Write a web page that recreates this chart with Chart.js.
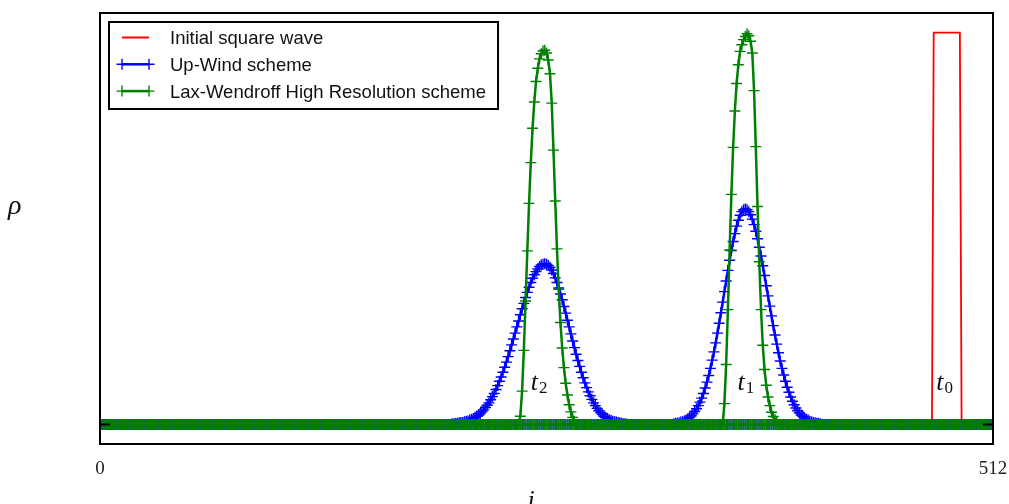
<!DOCTYPE html>
<html>
<head>
<meta charset="utf-8">
<script src="https://cdn.jsdelivr.net/npm/chart.js@4.4.1/dist/chart.umd.min.js"></script>
<style>
  html, body { margin: 0; padding: 0; background: #fff; }
  #wrap { width: 1009px; height: 504px; }
</style>
</head>
<body>
<div id="wrap"><canvas id="chart" width="1009" height="504"></canvas></div>
<script>
// grid size and axis ticks
const N = 512;
const xTicks = [0, 512];
const seriesNames = ['Initial square wave', 'Up-Wind scheme', 'Lax-Wendroff High Resolution scheme'];
const timeLabels = ['t', 't', 't'];
const timeSubs = ['2', '1', '0'];

// everything outside these pieces is zero
const squareStart = 478;
const squareWave = [1, 1, 1, 1, 1, 1, 1, 1, 1, 1, 1, 1, 1, 1, 1, 1];

const upwindT2Start = 202;
const upwindT2 = [
  0.002, 0.002, 0.003, 0.003, 0.004, 0.005, 0.005, 0.007, 0.008, 0.009,
  0.011, 0.013, 0.015, 0.018, 0.021, 0.024, 0.028, 0.033, 0.037, 0.043,
  0.049, 0.055, 0.063, 0.071, 0.079, 0.089, 0.099, 0.110, 0.121, 0.133,
  0.146, 0.159, 0.173, 0.188, 0.203, 0.218, 0.233, 0.249, 0.264, 0.280,
  0.295, 0.309, 0.324, 0.337, 0.350, 0.362, 0.373, 0.382, 0.390, 0.397,
  0.403, 0.407, 0.409, 0.410, 0.409, 0.406, 0.401, 0.394, 0.385, 0.374,
  0.362, 0.348, 0.333, 0.318, 0.301, 0.284, 0.266, 0.249, 0.231, 0.213,
  0.196, 0.179, 0.163, 0.148, 0.133, 0.119, 0.106, 0.094, 0.083, 0.073,
  0.064, 0.055, 0.048, 0.041, 0.035, 0.030, 0.026, 0.021, 0.018, 0.015,
  0.012, 0.010, 0.008, 0.007, 0.006, 0.005, 0.004, 0.003, 0.002, 0.002,
  0.001
];

const upwindT1Start = 329;
const upwindT1 = [
  0.002, 0.003, 0.003, 0.004, 0.006, 0.007, 0.009, 0.011, 0.014, 0.018,
  0.022, 0.027, 0.033, 0.040, 0.048, 0.057, 0.067, 0.079, 0.093, 0.108,
  0.125, 0.143, 0.164, 0.185, 0.208, 0.233, 0.258, 0.285, 0.312, 0.339,
  0.366, 0.393, 0.419, 0.444, 0.467, 0.487, 0.506, 0.521, 0.534, 0.543,
  0.548, 0.550, 0.548, 0.543, 0.535, 0.524, 0.510, 0.493, 0.474, 0.452,
  0.430, 0.405, 0.380, 0.354, 0.328, 0.302, 0.277, 0.252, 0.228, 0.205,
  0.183, 0.162, 0.143, 0.126, 0.110, 0.095, 0.082, 0.070, 0.059, 0.050,
  0.042, 0.035, 0.029, 0.024, 0.020, 0.016, 0.013, 0.011, 0.008, 0.007,
  0.005, 0.004, 0.003, 0.003, 0.002
];

const laxT2Start = 241;
const laxT2 = [
  0.021, 0.085, 0.189, 0.315, 0.443, 0.564, 0.668, 0.756, 0.823, 0.875,
  0.909, 0.933, 0.946, 0.953, 0.955, 0.948, 0.930, 0.895, 0.820, 0.700,
  0.570, 0.448, 0.345, 0.260, 0.195, 0.145, 0.105, 0.075, 0.050, 0.032,
  0.018, 0.008
];

const laxT1Start = 358;
const laxT1 = [
  0.053, 0.153, 0.293, 0.445, 0.587, 0.707, 0.800, 0.870, 0.918, 0.952,
  0.969, 0.982, 0.990, 0.997, 0.992, 0.978, 0.948, 0.852, 0.709, 0.556,
  0.415, 0.293, 0.202, 0.140, 0.100, 0.070, 0.048, 0.031, 0.020, 0.012,
  0.005
];

function profile(start, vals) {
  const ys = new Array(N).fill(0);
  vals.forEach((v, k) => { ys[start + k] = v; });
  return ys.map((v, i) => ({ x: i, y: v }));
}

const colors = ['#ff0000', '#0000ff', '#008000'];
const serif = '"Liberation Serif", "DejaVu Serif", serif';
const sans = '"Liberation Sans", Arial, sans-serif';

function markedLine(label, data, color, order) {
  return {
    label, data, order,
    borderColor: color,
    borderWidth: 2.5,
    pointStyle: 'cross',
    pointRadius: 5.5,
    pointBorderWidth: 1.4,
    pointBorderColor: color,
    clip: 0
  };
}

// frame, y=0 ticks, t labels, legend, axis letters
const decorations = {
  id: 'decorations',
  afterDraw(chart) {
    const { ctx, chartArea: a, scales: { x, y } } = chart;
    ctx.save();

    // t_n labels near the foot of each pulse
    const labelX = [247, 365.5, 479.5];
    const labelY = y.getPixelForValue(0.087);
    labelX.forEach((lx, k) => {
      const px = x.getPixelForValue(lx);
      ctx.fillStyle = '#111';
      ctx.font = 'italic 26px ' + serif;
      ctx.textBaseline = 'alphabetic';
      ctx.textAlign = 'left';
      ctx.fillText(timeLabels[k], px, labelY);
      const w = ctx.measureText(timeLabels[k]).width;
      ctx.font = '17px ' + serif;
      ctx.fillText(timeSubs[k], px + w + 1, labelY + 3);
    });

    // frame
    ctx.strokeStyle = '#000';
    ctx.lineWidth = 2;
    ctx.strokeRect(a.left, a.top, a.right - a.left, a.bottom - a.top);

    // small y ticks at rho = 0
    const y0 = y.getPixelForValue(0);
    ctx.beginPath();
    ctx.moveTo(a.left, y0); ctx.lineTo(a.left + 10, y0);
    ctx.moveTo(a.right, y0); ctx.lineTo(a.right - 10, y0);
    ctx.stroke();

    // legend box
    ctx.font = '18.5px ' + sans;
    const boxL = a.left + 9, boxT = a.top + 9;
    const textX = boxL + 61;
    let maxW = 0;
    seriesNames.forEach(n => { maxW = Math.max(maxW, ctx.measureText(n).width); });
    const boxW = textX + maxW + 12 - boxL, boxH = 87;
    ctx.fillStyle = '#fff';
    ctx.fillRect(boxL, boxT, boxW, boxH);
    ctx.lineWidth = 2;
    ctx.strokeStyle = '#000';
    ctx.strokeRect(boxL, boxT, boxW, boxH);
    seriesNames.forEach((n, k) => {
      const ry = boxT + 15.5 + k * 26.8;
      const x1 = boxL + 13, x2 = boxL + 40;
      ctx.strokeStyle = colors[k];
      ctx.lineWidth = k === 0 ? 2 : 2.5;
      ctx.beginPath();
      ctx.moveTo(x1, ry); ctx.lineTo(x2, ry);
      ctx.stroke();
      if (k > 0) {
        ctx.lineWidth = 1.4;
        ctx.beginPath();
        [x1, x2].forEach(mx => {
          ctx.moveTo(mx - 5.5, ry); ctx.lineTo(mx + 5.5, ry);
          ctx.moveTo(mx, ry - 5.5); ctx.lineTo(mx, ry + 5.5);
        });
        ctx.stroke();
      }
      ctx.fillStyle = '#111';
      ctx.textBaseline = 'alphabetic';
      ctx.textAlign = 'left';
      ctx.fillText(n, textX, ry + 6.5);
    });

    // axis letters
    ctx.fillStyle = '#111';
    ctx.font = 'italic 28px ' + serif;
    ctx.textAlign = 'left';
    ctx.fillText('\u03c1', 8, 214);
    ctx.font = 'italic 26px ' + serif;
    ctx.textAlign = 'center';
    ctx.fillText('i', 531, 508);
    ctx.restore();
  }
};

const ctx = document.getElementById('chart').getContext('2d');
new Chart(ctx, {
  type: 'line',
  data: {
    datasets: [
      {
        label: seriesNames[0],
        data: profile(squareStart, squareWave),
        borderColor: colors[0],
        borderWidth: 1.8,
        pointRadius: 0,
        order: 4,
        clip: 0
      },
      markedLine(seriesNames[1], profile(upwindT1Start, upwindT1), colors[1], 3),
      markedLine(seriesNames[1], profile(upwindT2Start, upwindT2), colors[1], 2),
      markedLine(seriesNames[2], profile(laxT1Start, laxT1), colors[2], 1),
      markedLine(seriesNames[2], profile(laxT2Start, laxT2), colors[2], 0)
    ]
  },
  options: {
    responsive: false,
    animation: false,
    devicePixelRatio: 1,
    events: [],
    layout: { padding: { left: 100, right: 16, top: 13, bottom: 0 } },
    plugins: { legend: { display: false }, tooltip: { enabled: false } },
    elements: { line: { tension: 0 } },
    scales: {
      x: {
        type: 'linear',
        min: 0,
        max: 512,
        afterBuildTicks: s => { s.ticks = xTicks.map(v => ({ value: v })); },
        afterFit: s => {
          s.height = 60;
          s.paddingLeft = 0;
          s.paddingRight = 0;
        },
        grid: { display: false, drawTicks: false },
        border: { display: false },
        ticks: {
          padding: 14,
          maxRotation: 0,
          color: '#222',
          font: { family: serif, size: 19 }
        }
      },
      y: {
        display: false,
        min: -0.05,
        max: 1.05
      }
    }
  },
  plugins: [decorations]
});
</script>
</body>
</html>
